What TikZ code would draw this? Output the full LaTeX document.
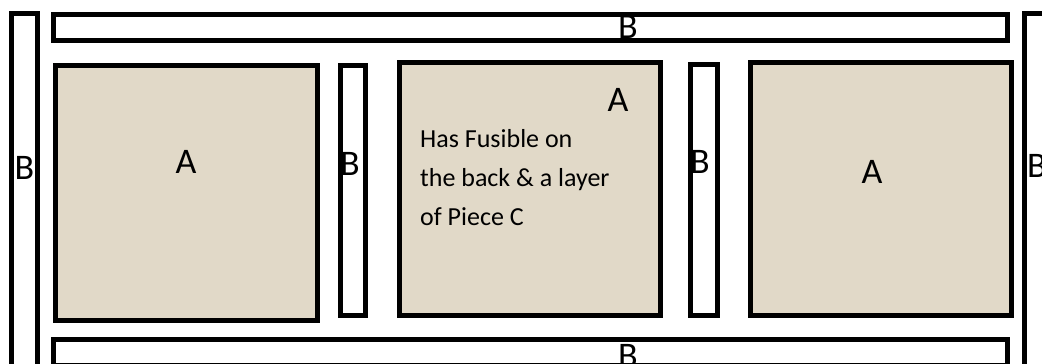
\documentclass[tikz,border=0pt]{standalone}
\usepackage{fontspec}
\setmainfont{Carlito}
\usepackage{xcolor}
\usepackage{tikz}

\definecolor{linen}{RGB}{225,217,200}

\begin{document}
\begin{tikzpicture}[x=1pt,y=-1pt]
        \useasboundingbox (0,0) rectangle (1042,364);
        \clip (0,0) rectangle (1042,364);
        \tikzset{
          piece/.style={draw, line width=5pt, rectangle, inner sep=0pt},
          fabric/.style={piece, fill=linen},
          letter/.style={inner sep=0pt, font=\fontsize{36}{42}\selectfont}
        }

        % outer strips B
        \node[piece, minimum width=26pt, minimum height=366.5pt] (leftB) at (24.5,196.75) {};
        \node[piece, minimum width=954pt, minimum height=26pt] (topB) at (530.5,27.5) {};
        \node[piece, minimum width=26pt, minimum height=366.5pt] (rightB) at (1037.5,196.75) {};
        \node[piece, minimum width=954pt, minimum height=26pt] (bottomB) at (530.5,352.5) {};

        % squares A and inner strips B
        \node[fabric, minimum width=262pt, minimum height=255pt] (pieceA1) at (186.5,193) {};
        \node[piece, minimum width=25pt, minimum height=250pt] (stripB1) at (353,190.5) {};
        \node[fabric, minimum width=261pt, minimum height=253pt] (pieceA2) at (530,189) {};
        \node[piece, minimum width=27pt, minimum height=251pt] (stripB2) at (704,190) {};
        \node[fabric, minimum width=261pt, minimum height=253pt] (pieceA3) at (881,189) {};

        % labels
        \node[letter] (leftBlbl) at (24.5,168) {B};
        \node[letter] (topBlbl) at (628,27) {B};
        \node[letter] (rightBlbl) at (1037,166) {B};
        \node[letter] (bottomBlbl) at (628,356) {B};
        \node[letter] (stripB1lbl) at (350,164) {B};
        \node[letter] (stripB2lbl) at (700,162) {B};
        \node[letter] (pieceA1lbl) at (186,162) {A};
        \node[letter] (pieceA2lbl) at (618,100) {A};
        \node[letter] (pieceA3lbl) at (872,172) {A};

        \node[inner sep=0pt, anchor=north west, align=left,
              font=\fontsize{26}{39}\selectfont] (note) at (420,129)
              {Has Fusible on\\the back \& a layer\\of Piece C};
    \end{tikzpicture}
\end{document}
